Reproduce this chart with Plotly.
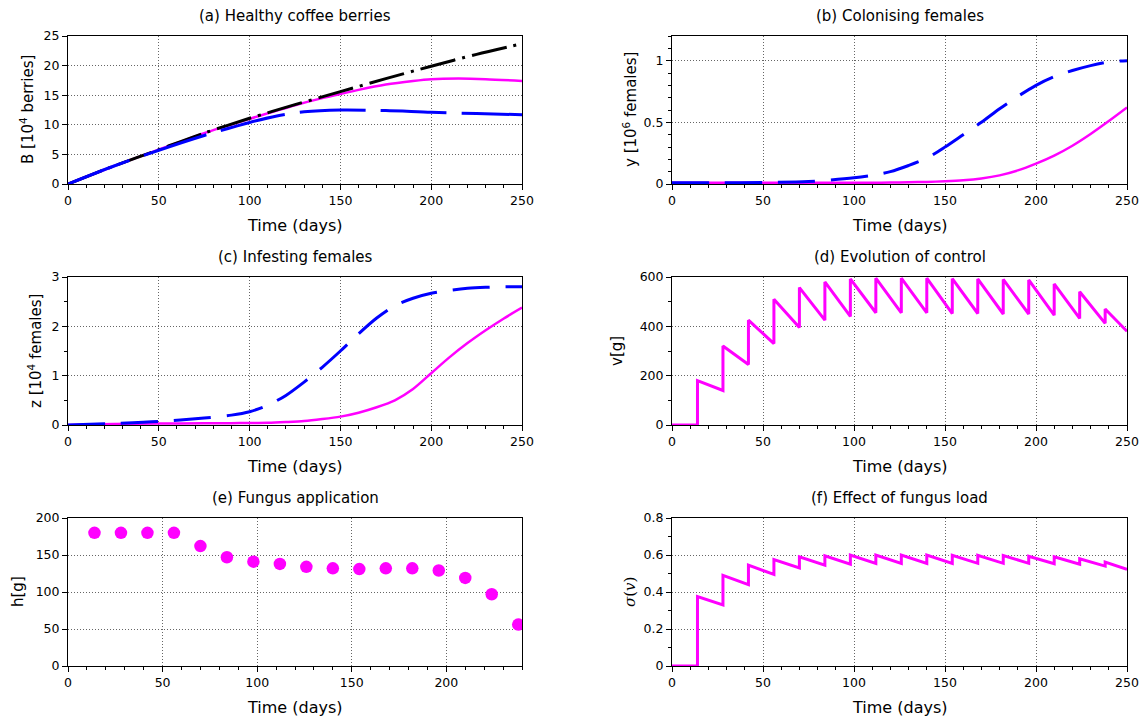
import plotly.graph_objects as go

# ---------------- data ----------------
# (a) healthy coffee berries [10^4 berries]
tA_black = [0, 25, 50, 75, 100, 125, 150, 175, 200, 225, 250]
B_nopest = [0, 3.0, 5.8, 8.6, 11.1, 13.4, 15.6, 17.8, 19.9, 21.9, 23.7]
tA_mag = [0, 25, 50, 75, 100, 125, 140, 150, 160, 175, 190, 200, 215, 230, 250]
B_control = [0, 3.0, 5.8, 8.6, 11.0, 13.3, 14.5, 15.2, 15.9, 16.8, 17.4, 17.7, 17.8, 17.7, 17.4]
tA_blue = [0, 25, 50, 75, 100, 115, 130, 150, 175, 200, 225, 250]
B_nocontrol = [0, 3.0, 5.7, 8.2, 10.4, 11.5, 12.2, 12.5, 12.4, 12.1, 11.9, 11.7]

# (b) colonising females [10^6]
tY = [0, 25, 50, 75, 100, 110, 120, 130, 140, 150, 160, 170, 180, 190, 200, 210, 220, 230, 240, 250]
y_nocontrol = [0.01, 0.01, 0.012, 0.02, 0.05, 0.07, 0.1, 0.15, 0.21, 0.3, 0.4, 0.5, 0.61, 0.71, 0.8, 0.87, 0.92, 0.96, 0.99, 1.0]
y_control = [0.01, 0.01, 0.01, 0.01, 0.01, 0.01, 0.012, 0.014, 0.017, 0.022, 0.03, 0.045, 0.07, 0.11, 0.165, 0.23, 0.31, 0.405, 0.51, 0.62]

# (c) infesting females [10^4]
tZ = [0, 25, 50, 75, 90, 100, 110, 120, 130, 140, 150, 160, 170, 180, 190, 200, 210, 220, 230, 240, 250]
z_nocontrol = [0, 0.03, 0.07, 0.14, 0.2, 0.27, 0.4, 0.6, 0.87, 1.17, 1.5, 1.85, 2.17, 2.42, 2.57, 2.67, 2.73, 2.77, 2.79, 2.8, 2.8]
z_control = [0, 0.02, 0.03, 0.035, 0.038, 0.04, 0.045, 0.06, 0.08, 0.12, 0.17, 0.25, 0.36, 0.5, 0.73, 1.05, 1.37, 1.66, 1.92, 2.16, 2.38]

# (d) control v[g] and (f) sigma(v)
tV = [0, 14, 14, 28, 28, 42, 42, 56, 56, 70, 70, 84, 84, 98, 98, 112, 112, 126, 126,
      140, 140, 154, 154, 168, 168, 182, 182, 196, 196, 210, 210, 224, 224, 238, 238, 250]
v = [0, 0, 180, 140, 320, 245, 425, 330, 510, 395, 557, 425, 580, 440, 592, 455, 595, 455, 595,
     455, 595, 452, 593, 452, 592, 450, 590, 450, 588, 445, 572, 432, 540, 412, 470, 380]
sig = [0, 0, 0.375, 0.33, 0.49, 0.44, 0.545, 0.495, 0.575, 0.53, 0.59, 0.545, 0.595, 0.55, 0.6, 0.555,
       0.6, 0.555, 0.6, 0.555, 0.6, 0.555, 0.598, 0.555, 0.598, 0.555, 0.597, 0.555, 0.593, 0.553,
       0.59, 0.55, 0.58, 0.54, 0.562, 0.522]

# (e) fungus application h[g]
tH = [14, 28, 42, 56, 70, 84, 98, 112, 126, 140, 154, 168, 182, 196, 210, 224, 238]
h = [180, 180, 180, 180, 162, 147, 141, 138, 134, 132, 131, 132, 132, 129, 119, 97, 56]

titles = ["(a) Healthy coffee berries", "(b) Colonising females", "(c) Infesting females",
          "(d) Evolution of control", "(e) Fungus application", "(f) Effect of fungus load"]
ytitles = ["B [10<sup>4</sup> berries]", "y [10<sup>6</sup> females]", "z [10<sup>4</sup> females]",
           "v[g]", "h[g]", "<i>σ</i>(<i>v</i>)"]

# ---------------- figure ----------------
W, H = 1141, 722
MAG = "#FF00FF"
BLUE = "#0000FF"
FONT = "DejaVu Sans"

fig = go.Figure()

def add(x, y, ax, color, dash="solid", width=3, shape="spline"):
    fig.add_trace(go.Scatter(x=x, y=y, xaxis="x" + ax, yaxis="y" + ax, mode="lines",
                             showlegend=False, hoverinfo="skip",
                             line=dict(color=color, width=width, dash=dash, shape=shape,
                                       smoothing=0.8)))

# (a)
add(tA_mag, B_control, "", MAG, width=2.5)
add(tA_black, B_nopest, "", "black", dash="36px,7px,3px,7px", width=3)
add(tA_blue, B_nocontrol, "", BLUE, dash="66px,15px", width=3)
# (b)
add(tY, y_control, "2", MAG, width=2.5)
add(tY, y_nocontrol, "2", BLUE, dash="37px,16px", width=3)
# (c)
add(tZ, z_control, "3", MAG, width=2.5)
add(tZ, z_nocontrol, "3", BLUE, dash="37px,16px", width=3)
# (d)
add(tV, v, "4", MAG, width=3, shape="linear")
# (e)
fig.add_trace(go.Scatter(x=tH, y=h, xaxis="x5", yaxis="y5", mode="markers", showlegend=False,
                         marker=dict(color=MAG, size=12.5, line=dict(width=0)), cliponaxis=True,
                         hoverinfo="skip"))
# (f)
add(tV, sig, "6", MAG, width=3, shape="linear")

# panel pixel boxes (left, right, top, bottom)
cols = [(68, 522), (672, 1127)]
rows = [(36, 184), (277, 425), (518, 666)]

def px_x(p):
    return p / W

def px_y(p):
    return 1 - p / H

yranges = [[0, 25], [0, 1.2], [0, 3], [0, 600], [0, 200], [0, 0.8]]
ydticks = [5, 0.5, 1, 200, 50, 0.2]
yminor = [None, 0.1, 0.5, 100, None, 0.1]
xranges = [[0, 250]] * 4 + [[0, 240], [0, 250]]
ytitle_x = [27, 630, 35, 617, 18, 630]

axis_common = dict(
    showline=True, linecolor="black", linewidth=1, mirror=True,
    ticks="outside", ticklen=5, tickcolor="black", tickwidth=1,
    showgrid=True, gridcolor="rgba(0,0,0,0.6)", griddash="1px,2px", gridwidth=1,
    zeroline=False, fixedrange=True, automargin=False,
    tickfont=dict(family=FONT, size=12.5, color="black"),
)

annotations = []
for i in range(6):
    r, c = divmod(i, 2)
    l, rr = cols[c]
    t, b = rows[r]
    sfx = "" if i == 0 else str(i + 1)
    xa = dict(axis_common, domain=[px_x(l), px_x(rr)], range=xranges[i], dtick=50, tick0=0,
              anchor="y" + sfx,
              minor=dict(dtick=10, ticks="outside", ticklen=3, tickcolor="black", showgrid=False))
    ya = dict(axis_common, domain=[px_y(b), px_y(t)], range=yranges[i], dtick=ydticks[i], tick0=0,
              anchor="x" + sfx)
    if yminor[i] is not None:
        ya["minor"] = dict(dtick=yminor[i], ticks="outside", ticklen=3, tickcolor="black", showgrid=False)
    fig.update_layout(**{"xaxis" + sfx: xa, "yaxis" + sfx: ya})

    cx = (l + rr) / 2
    annotations.append(dict(text=titles[i], x=px_x(cx), y=px_y(t - 20), xref="paper", yref="paper",
                            showarrow=False, xanchor="center", yanchor="middle",
                            font=dict(family=FONT, size=15, color="black")))
    annotations.append(dict(text="Time (days)", x=px_x(cx), y=px_y(b + 41), xref="paper", yref="paper",
                            showarrow=False, xanchor="center", yanchor="middle",
                            font=dict(family=FONT, size=16, color="black")))
    yfont = dict(family=FONT, size=15, color="black")
    if i == 5:
        yfont = dict(family="DejaVu Serif", size=15, color="black")
    annotations.append(dict(text=ytitles[i], x=px_x(ytitle_x[i]), y=px_y((t + b) / 2), xref="paper",
                            yref="paper", showarrow=False, xanchor="center", yanchor="middle",
                            textangle=-90, font=yfont))

fig.update_layout(width=W, height=H, autosize=False,
                  margin=dict(l=0, r=0, t=0, b=0, pad=0),
                  paper_bgcolor="white", plot_bgcolor="white",
                  annotations=annotations, showlegend=False)

# remove the default 8px page margin so the figure fills the window exactly
fig.write_html("out.html", config={"displayModeBar": False},
               post_script="document.body.style.margin='0';document.documentElement.style.overflow='hidden';")
